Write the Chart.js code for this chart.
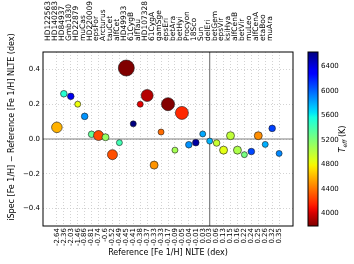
<!DOCTYPE html>
<html>
<head>
<meta charset="utf-8">
<script src="https://cdn.jsdelivr.net/npm/chart.js@4/dist/chart.umd.min.js"></script>
<style>
  html, body { margin: 0; padding: 0; background: #fff; }
  #wrap { position: relative; width: 354px; height: 264px; }
  #main { position: absolute; left: 0; top: 0; }
  #cbar { position: absolute; left: 300px; top: 0; }
</style>
</head>
<body>
<div id="wrap">
  <canvas id="main" width="354" height="264"></canvas>
  <canvas id="cbar" width="54" height="264"></canvas>
</div>
<script>
// benchmark stars, sorted by reference metallicity
const stars = ['HD122563', 'HD140283', 'HD84937', 'Gmb1830', 'HD22879', 'muCas', 'HD220009', 'epsFor',
  'Arcturus', 'tauCet', 'alfCet', 'HD49933', '61CygB', 'alfTau', 'HD107328', '61CygA', 'gamSge',
  'epsEri', 'betAra', 'betHyi', 'Procyon', '18Sco', 'Sun', 'delEri', 'betGem', 'epsVir', 'ksiHya',
  'alfCenB', 'betVir', 'muLeo', 'alfCenA', 'etaBoo', 'muAra'];
const refFeH = ['-2.64', '-2.36', '-2.03', '-1.46', '-0.86', '-0.81', '-0.74', '-0.6',
  '-0.52', '-0.49', '-0.45', '-0.41', '-0.38', '-0.37', '-0.33', '-0.33', '-0.17',
  '-0.09', '-0.05', '-0.04', '-0.01', '0.03', '0.03', '0.06', '0.13', '0.15', '0.16',
  '0.22', '0.24', '0.25', '0.26', '0.32', '0.35'];
const deltaFeH = [0.067, 0.26, 0.245, 0.20, 0.13, 0.027, 0.02, 0.01,
  -0.09, -0.021, 0.408, 0.087, 0.20, 0.25, -0.15, 0.04, 0.20,
  -0.064, 0.15, -0.033, -0.021, 0.029, -0.012, -0.023, -0.064, 0.019, -0.064,
  -0.09, -0.072, 0.019, -0.031, 0.061, -0.083];
const teff = [4587, 5514, 6356, 4827, 5868, 5308, 4275, 5123,
  4286, 5414, 3796, 6635, 4044, 3927, 4496, 4374, 3807,
  5076, 4173, 5873, 6554, 5810, 5777, 4954, 4858, 4983, 5044,
  5231, 6083, 4474, 5792, 6099, 5902];
const markerRadius = [5.3, 3.3, 3.3, 3, 3.3, 3.3, 5, 3.5,
  5, 3, 8, 3, 3, 6, 4, 3, 6.5,
  3, 6.5, 3.3, 3.3, 3, 3, 3.3, 4, 4, 4,
  3, 3.3, 4, 3, 3.3, 3];
const yTicks = [-0.4, -0.2, 0, 0.2, 0.4];
const teffTicks = [4000, 4400, 4800, 5200, 5600, 6000, 6400];

const FONT = 'DejaVu Sans';
const teffMin = Math.min(...teff);
const teffMax = Math.max(...teff);
const sunIndex = stars.indexOf('Sun');
const idx = stars.map((s, i) => i);

// matplotlib "jet" segments, used reversed (hot = red)
const JET = {
  r: [[0, 0], [0.35, 0], [0.66, 1], [0.89, 1], [1, 0.5]],
  g: [[0, 0], [0.125, 0], [0.375, 1], [0.64, 1], [0.91, 0], [1, 0]],
  b: [[0, 0.5], [0.11, 1], [0.34, 1], [0.65, 0], [1, 0]]
};
function seg(pts, t) {
  for (let i = 1; i < pts.length; i++) {
    if (t <= pts[i][0]) {
      const [x0, y0] = pts[i - 1], [x1, y1] = pts[i];
      return y0 + (y1 - y0) * (t - x0) / (x1 - x0);
    }
  }
  return pts[pts.length - 1][1];
}
function jetR(t) {
  const u = 1 - Math.min(1, Math.max(0, t));
  const c = k => Math.round(255 * seg(JET[k], u));
  return `rgb(${c('r')},${c('g')},${c('b')})`;
}
const teffColor = T => jetR((T - teffMin) / (teffMax - teffMin));

const tickFont = { family: FONT, size: 7 };

const frameAndTitles = {
  id: 'frameAndTitles',
  beforeDatasetsDraw(chart) {
    const { ctx, chartArea: a, scales: { x, y } } = chart;
    const y0 = y.getPixelForValue(0);
    const xs = x.getPixelForValue(sunIndex);
    ctx.save();
    ctx.strokeStyle = '#808080';
    ctx.lineWidth = 1.2;
    ctx.beginPath();
    ctx.moveTo(a.left, y0); ctx.lineTo(a.right, y0);
    ctx.moveTo(xs, a.top); ctx.lineTo(xs, a.bottom);
    ctx.stroke();
    ctx.restore();
  },
  afterDraw(chart) {
    const { ctx, chartArea: a } = chart;
    ctx.save();
    ctx.strokeStyle = '#000';
    ctx.lineWidth = 1;
    ctx.strokeRect(a.left, a.top, a.right - a.left, a.bottom - a.top);
    ctx.fillStyle = '#000';
    ctx.font = `8px "${FONT}"`;
    ctx.textAlign = 'center';
    ctx.textBaseline = 'middle';
    ctx.fillText('Reference [Fe 1/H] NLTE (dex)', (a.left + a.right) / 2, 253);
    ctx.translate(12, 127);
    ctx.rotate(-Math.PI / 2);
    ctx.fillText('iSpec [Fe 1/H] \u2212 Reference [Fe 1/H] NLTE (dex)', 0, 0);
    ctx.restore();
  }
};

new Chart(document.getElementById('main'), {
  type: 'bubble',
  data: {
    datasets: [{
      data: idx.map(i => ({ x: i, y: deltaFeH[i], r: markerRadius[i] })),
      backgroundColor: teff.map(teffColor),
      borderColor: '#1a1a1a',
      borderWidth: 0.6
    }]
  },
  options: {
    responsive: false,
    animation: false,
    layout: { padding: { right: 61 } },
    plugins: { legend: { display: false }, tooltip: { enabled: false } },
    scales: {
      x: {
        type: 'linear', position: 'bottom', min: -2, max: 34,
        afterBuildTicks: axis => { axis.ticks = idx.map(v => ({ value: v })); },
        afterFit: axis => { axis.height = 38; },
        grid: { color: '#c8c8c8', lineWidth: 0.8, drawTicks: false },
        border: { display: false, dash: [1, 2] },
        ticks: {
          autoSkip: false, minRotation: 90, maxRotation: 90, padding: 2,
          color: '#000', font: tickFont,
          callback: v => refFeH[v]
        }
      },
      x2: {
        type: 'linear', position: 'top', min: -2, max: 34,
        afterBuildTicks: axis => { axis.ticks = idx.map(v => ({ value: v })); },
        afterFit: axis => { axis.height = 52; },
        grid: { display: false },
        border: { display: false },
        ticks: {
          autoSkip: false, minRotation: 90, maxRotation: 90, padding: 3,
          color: '#000', font: { family: FONT, size: 7.5 },
          callback: v => stars[v]
        }
      },
      y: {
        min: -0.5, max: 0.5,
        afterBuildTicks: axis => { axis.ticks = yTicks.map(v => ({ value: v })); },
        afterFit: axis => { axis.width = 43; },
        grid: { color: '#c8c8c8', lineWidth: 0.8, drawTicks: false },
        border: { display: false, dash: [1, 2] },
        ticks: {
          padding: 3, color: '#000', font: tickFont,
          callback: v => (v < 0 ? '\u2212' : '') + Math.abs(v).toFixed(1)
        }
      }
    }
  },
  plugins: [frameAndTitles]
});

const cbTitle = {
  id: 'cbTitle',
  afterDraw(chart) {
    const { ctx, chartArea: a } = chart;
    ctx.save();
    ctx.strokeStyle = '#000';
    ctx.lineWidth = 1;
    ctx.strokeRect(a.left, a.top, a.right - a.left, a.bottom - a.top);
    ctx.fillStyle = '#000';
    ctx.translate(43, (a.top + a.bottom) / 2);
    ctx.rotate(-Math.PI / 2);
    ctx.textBaseline = 'middle';
    ctx.textAlign = 'left';
    const fBig = `italic 8px "${FONT}"`, fSub = `italic 6px "${FONT}"`, fNorm = `8px "${FONT}"`;
    ctx.font = fBig; const wT = ctx.measureText('T').width;
    ctx.font = fSub; const wS = ctx.measureText('eff').width;
    ctx.font = fNorm; const wK = ctx.measureText(' (K)').width;
    let px = -(wT + wS + wK) / 2;
    ctx.font = fBig; ctx.fillText('T', px, 0); px += wT;
    ctx.font = fSub; ctx.fillText('eff', px, 2); px += wS;
    ctx.font = fNorm; ctx.fillText(' (K)', px, 0);
    ctx.restore();
  }
};

new Chart(document.getElementById('cbar'), {
  type: 'bar',
  data: {
    labels: ['Teff'],
    datasets: [{
      data: [[teffMin, teffMax]],
      backgroundColor: c => {
        const { chart } = c;
        const a = chart.chartArea;
        if (!a) return '#888';
        const g = chart.ctx.createLinearGradient(0, a.bottom, 0, a.top);
        for (let i = 0; i <= 40; i++) g.addColorStop(i / 40, jetR(i / 40));
        return g;
      },
      borderWidth: 0,
      barPercentage: 1,
      categoryPercentage: 1
    }]
  },
  options: {
    responsive: false,
    animation: false,
    layout: { padding: { left: 8, top: 52, bottom: 38 } },
    plugins: { legend: { display: false }, tooltip: { enabled: false } },
    scales: {
      x: { display: false },
      y: {
        position: 'right', min: teffMin, max: teffMax,
        afterBuildTicks: axis => { axis.ticks = teffTicks.map(v => ({ value: v })); },
        afterFit: axis => { axis.width = 36; },
        grid: { display: false, drawTicks: false },
        border: { display: false },
        ticks: { padding: 3, color: '#000', font: tickFont, callback: v => String(v) }
      }
    }
  },
  plugins: [cbTitle]
});
</script>
</body>
</html>
